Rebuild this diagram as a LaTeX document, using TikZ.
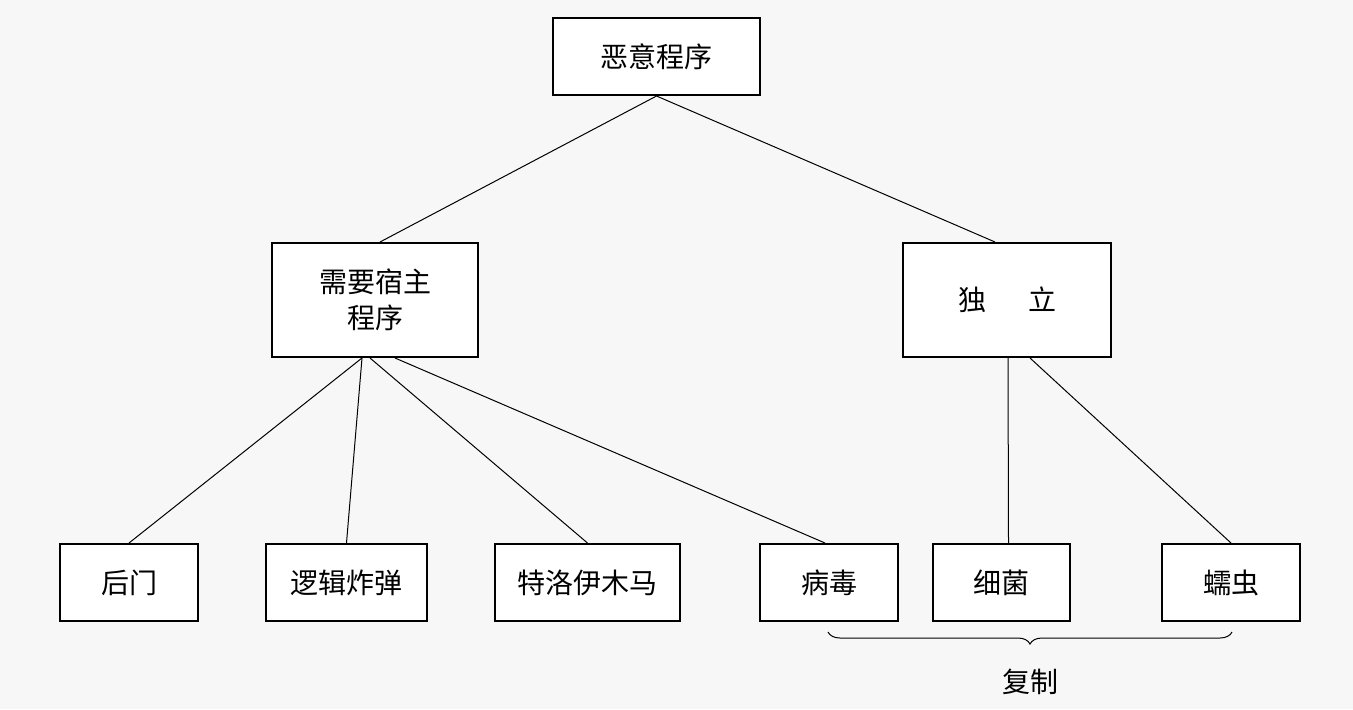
\documentclass[tikz,border=0pt]{standalone}
\usepackage{fontspec}
\newfontfamily\cjk{Noto Sans CJK SC}
\usetikzlibrary{decorations.pathreplacing}
\begin{document}
\begin{tikzpicture}[x=0.5pt,y=-0.5pt,
  box/.style={draw,line width=1pt,fill=white,inner sep=0pt,font=\cjk\fontsize{14}{18}\selectfont,align=center},
  link/.style={line width=0.5pt}]
\fill[white!97!black] (0,0) rectangle (1353,709);
\useasboundingbox (0,0) rectangle (1353,709);
\node[box,minimum width=103.5pt,minimum height=38.5pt] (top) at (656.5,56.5) {恶意程序};
\node[box,minimum width=103pt,minimum height=57pt] (host) at (375,300) {需要宿主\\程序};
\node[box,minimum width=104pt,minimum height=57pt] (ind) at (1007,300) {独\hspace{1.5em}立};
\node[box,minimum width=69pt,minimum height=38.5pt] (bd) at (129,582.5) {后门};
\node[box,minimum width=80.5pt,minimum height=38.5pt] (lb) at (346.5,582.5) {逻辑炸弹};
\node[box,minimum width=92.5pt,minimum height=38.5pt] (tj) at (587.5,582.5) {特洛伊木马};
\node[box,minimum width=69pt,minimum height=38.5pt] (vi) at (829,582.5) {病毒};
\node[box,minimum width=68.5pt,minimum height=38.5pt] (ba) at (1001.5,582.5) {细菌};
\node[box,minimum width=69pt,minimum height=38.5pt] (wo) at (1231,582.5) {蠕虫};
\draw[link] (top.south) -- ([xshift=2.5pt]host.north);
\draw[link] (top.south) -- ([xshift=-6pt]ind.north);
\draw[link] ([xshift=-6.5pt]host.south) -- (bd.north);
\draw[link] ([xshift=-6.5pt]host.south) -- (lb.north);
\draw[link] ([xshift=-2.5pt]host.south) -- (tj.north);
\draw[link] ([xshift=10pt]host.south) -- ([xshift=-2pt]vi.north);
\draw[link] ([xshift=0.5pt]ind.south) -- ([xshift=3.5pt]ba.north);
\draw[link] ([xshift=11.5pt]ind.south) -- (wo.north);
\coordinate (b1) at (828,632);
\coordinate (b2) at (1232,632);
\draw[link,decorate,decoration={brace,mirror,amplitude=6pt}] (b1) -- (b2)
  node[midway,below=15pt,font=\cjk\fontsize{14}{18}\selectfont] (rep) {复制};
\end{tikzpicture}
\end{document}
